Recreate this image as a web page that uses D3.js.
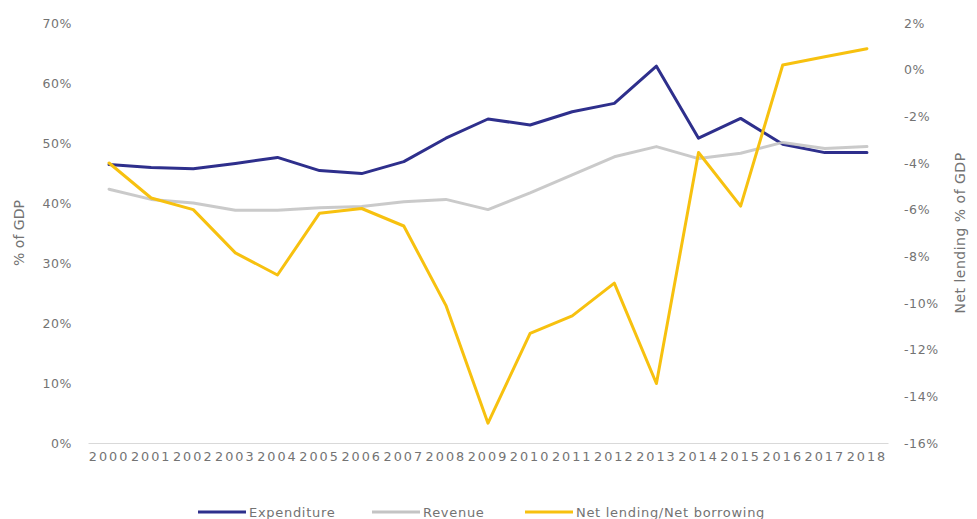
<!DOCTYPE html>
<html>
<head>
<meta charset="utf-8">
<script src="https://cdn.jsdelivr.net/npm/d3@7"></script>
<style>
  html, body { margin: 0; padding: 0; background: #fff; }
  svg { display: block; }
  text { font-family: "DejaVu Sans", sans-serif; fill: #737373; }
</style>
</head>
<body>
<svg id="chart" width="977" height="519"></svg>
<script>
// Government finances, % of GDP
const years = ["2000","2001","2002","2003","2004","2005","2006","2007","2008","2009",
               "2010","2011","2012","2013","2014","2015","2016","2017","2018"];
const expenditure = [46.4, 45.9, 45.7, 46.6, 47.6, 45.4, 44.9, 46.9, 50.8, 54.0,
                     53.0, 55.2, 56.6, 62.8, 50.8, 54.1, 49.8, 48.4, 48.4];
const revenue     = [42.3, 40.6, 40.0, 38.8, 38.8, 39.2, 39.4, 40.2, 40.6, 38.9,
                     41.7, 44.7, 47.7, 49.4, 47.4, 48.3, 50.1, 49.1, 49.4];
const netLending  = [-4.0, -5.5, -6.0, -7.85, -8.8, -6.15, -5.95, -6.7, -10.1, -15.15,
                     -11.3, -10.55, -9.15, -13.45, -3.55, -5.85, 0.2, 0.55, 0.9];
const leftTicks  = [0, 10, 20, 30, 40, 50, 60, 70];
const rightTicks = [2, 0, -2, -4, -6, -8, -10, -12, -14, -16];
const seriesNames = ["Expenditure", "Revenue", "Net lending/Net borrowing"];
const seriesColors = ["#2e2f8c", "#c4c4c4", "#f7c10f"];

const svg = d3.select("#chart");
const plot = { left: 88, right: 888, top: 23, bottom: 443 };

const x = d3.scalePoint().domain(years).range([plot.left, plot.right]).padding(0.5);
const xBand = d3.scaleBand().domain(years).range([plot.left, plot.right]);
const yL = d3.scaleLinear().domain([0, 70]).range([plot.bottom, plot.top]);
const yR = d3.scaleLinear().domain([-16, 2]).range([plot.bottom, plot.top]);

// percent labels with a plain hyphen for negatives
const pct = d => (d < 0 ? "-" + Math.abs(d) : String(d)) + "%";

// left axis labels
const leftAxis = d3.axisLeft(yL).tickValues(leftTicks).tickFormat(pct).tickSize(0).tickPadding(0);
const gL = svg.append("g").attr("transform", "translate(72,0)").call(leftAxis);
gL.select(".domain").remove();
gL.selectAll("text").attr("font-size", 12.5).attr("letter-spacing", 0.6)
  .style("font-family", "DejaVu Sans").attr("fill", "#737373");

// right axis labels
const rightAxis = d3.axisRight(yR).tickValues(rightTicks).tickFormat(pct).tickSize(0).tickPadding(0);
const gR = svg.append("g").attr("transform", "translate(904,0)").call(rightAxis);
gR.select(".domain").remove();
gR.selectAll("text").attr("font-size", 12.5).attr("letter-spacing", 0.6)
  .style("font-family", "DejaVu Sans").attr("fill", "#737373");

// category axis
const bottomAxis = d3.axisBottom(xBand).tickSize(0).tickPadding(9);
const gB = svg.append("g").attr("transform", `translate(0,${plot.bottom})`).call(bottomAxis);
gB.select(".domain").attr("stroke", "#d9d9d9").attr("stroke-width", 1.2);
gB.selectAll("text").attr("font-size", 12.8).attr("letter-spacing", 2)
  .style("font-family", "DejaVu Sans").attr("fill", "#737373");

// axis titles
svg.append("text")
  .attr("transform", `translate(20,${(plot.top + plot.bottom) / 2}) rotate(-90)`)
  .attr("text-anchor", "middle").attr("dominant-baseline", "middle")
  .attr("font-size", 14).attr("fill", "#6b6b6b")
  .text("% of GDP");
svg.append("text")
  .attr("transform", `translate(961,${(plot.top + plot.bottom) / 2}) rotate(-90)`)
  .attr("text-anchor", "middle").attr("dominant-baseline", "middle")
  .attr("font-size", 14).attr("letter-spacing", 0.5).attr("fill", "#6b6b6b")
  .text("Net lending % of GDP");

// series lines
const lineL = d3.line().x((d, i) => x(years[i])).y(d => yL(d));
const lineR = d3.line().x((d, i) => x(years[i])).y(d => yR(d));

svg.append("path").datum(expenditure).attr("d", lineL)
  .attr("fill", "none").attr("stroke", seriesColors[0]).attr("stroke-width", 3)
  .attr("stroke-linejoin", "round").attr("stroke-linecap", "round");
svg.append("path").datum(revenue).attr("d", lineL)
  .attr("fill", "none").attr("stroke", seriesColors[1]).attr("stroke-width", 3).attr("stroke-opacity", 0.9)
  .attr("stroke-linejoin", "round").attr("stroke-linecap", "round");
svg.append("path").datum(netLending).attr("d", lineR)
  .attr("fill", "none").attr("stroke", seriesColors[2]).attr("stroke-width", 3)
  .attr("stroke-linejoin", "round").attr("stroke-linecap", "round");

// legend
const legendItems = [
  { name: seriesNames[0], color: seriesColors[0], x: 198 },
  { name: seriesNames[1], color: seriesColors[1], x: 372 },
  { name: seriesNames[2], color: seriesColors[2], x: 525 }
];
const lg = svg.append("g").attr("transform", "translate(0,512)");
legendItems.forEach(it => {
  lg.append("line").attr("x1", it.x).attr("x2", it.x + 48).attr("y1", 0).attr("y2", 0)
    .attr("stroke", it.color).attr("stroke-width", 3);
  lg.append("text").attr("x", it.x + 51).attr("y", 0).attr("dy", "0.36em")
    .attr("font-size", 13).attr("letter-spacing", 0.7).attr("fill", "#737373")
    .text(it.name);
});
</script>
</body>
</html>
